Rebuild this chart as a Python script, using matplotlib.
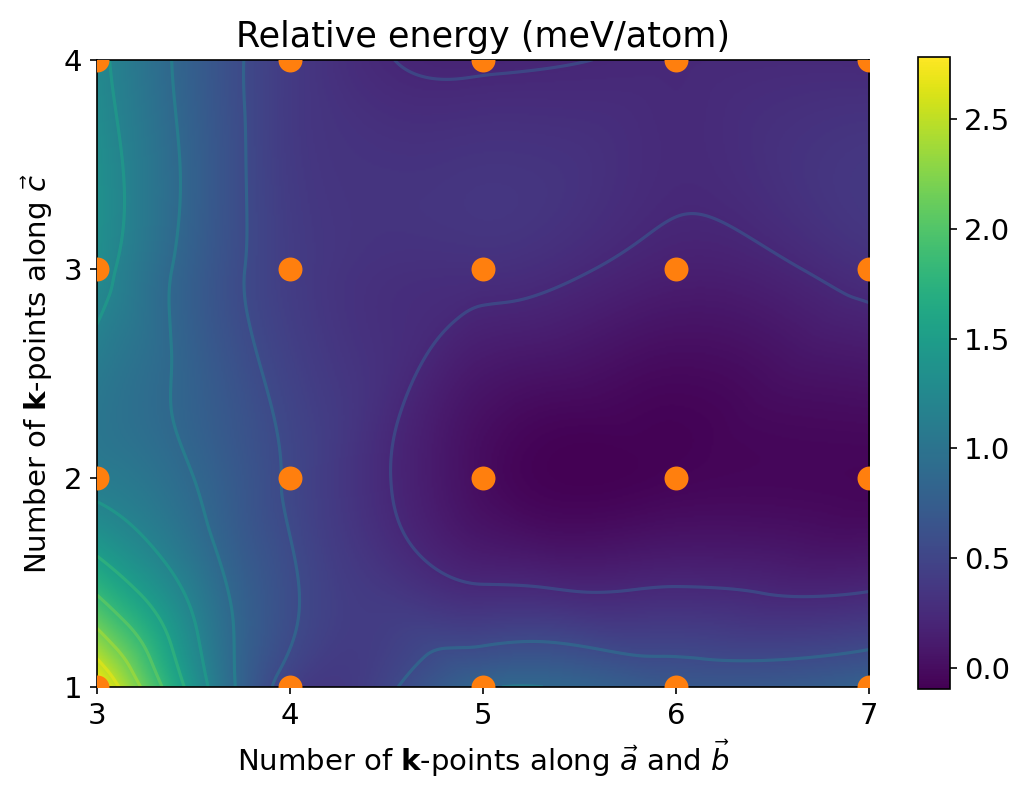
import numpy as np
import matplotlib
matplotlib.use('Agg')
import matplotlib.pyplot as plt
import matplotlib.tri as mtri
from matplotlib.colors import Normalize

# k-point grid
kpts_ab = [3, 4, 5, 6, 7]
kpts_c = [1, 2, 3, 4]

# relative energy (meV/atom), one list per k-points along c
energy_c1 = [2.78, 0.45, 0.84, 0.70, 0.80]
energy_c2 = [1.10, 0.52, 0.00, -0.06, -0.05]
energy_c3 = [1.30, 0.42, 0.30, 0.16, 0.30]
energy_c4 = [1.25, 0.40, 0.20, 0.24, 0.24]


def interpolate_energy(x, y, z, n=400):
    """
        Clough-Tocher cubic interpolation onto a fine grid
    """
    xx, yy = np.meshgrid(x, y)
    tri = mtri.Triangulation(xx.ravel(), yy.ravel())
    interp = mtri.CubicTriInterpolator(tri, np.asarray(z, dtype=float).ravel(), kind='min_E')
    xi = np.linspace(min(x), max(x), n)
    yi = np.linspace(min(y), max(y), n)
    xxi, yyi = np.meshgrid(xi, yi)
    zi = np.ma.filled(interp(xxi, yyi), np.nan)
    return xi, yi, zi


def main():
    energy = [energy_c1, energy_c2, energy_c3, energy_c4]
    xi, yi, zi = interpolate_energy(kpts_ab, kpts_c, energy)
    xx, yy = np.meshgrid(kpts_ab, kpts_c)

    plt.rcParams['font.size'] = 14

    fig = plt.figure(figsize=(6.8, 5.24), dpi=150)
    ax = fig.add_axes([0.095, 0.126, 0.757, 0.798])
    cax = fig.add_axes([0.9, 0.124, 0.031, 0.803])

    im = ax.imshow(zi, origin='lower', extent=[3, 7, 1, 4], aspect='auto',
                   cmap='viridis', interpolation='bilinear')
    levels = np.linspace(np.nanmin(zi), np.nanmax(zi), 10)
    ax.contour(xi, yi, zi, levels=levels, cmap='viridis',
               norm=Normalize(-0.6, 2.6), alpha=0.7, linewidths=1.5)
    ax.scatter(xx.ravel(), yy.ravel(), s=110, color='#ff7f0e', zorder=3)

    ax.set_xticks(kpts_ab)
    ax.set_yticks(kpts_c)
    ax.set_xlabel(r'Number of $\mathbf{k}$-points along $\vec{a}$ and $\vec{b}$')
    ax.set_ylabel(r'Number of $\mathbf{k}$-points along $\vec{c}$')
    ax.set_title('Relative energy (meV/atom)', fontsize=16.8)

    fig.colorbar(im, cax=cax)

    fig.savefig('out.png')


if __name__ == '__main__':
    main()
